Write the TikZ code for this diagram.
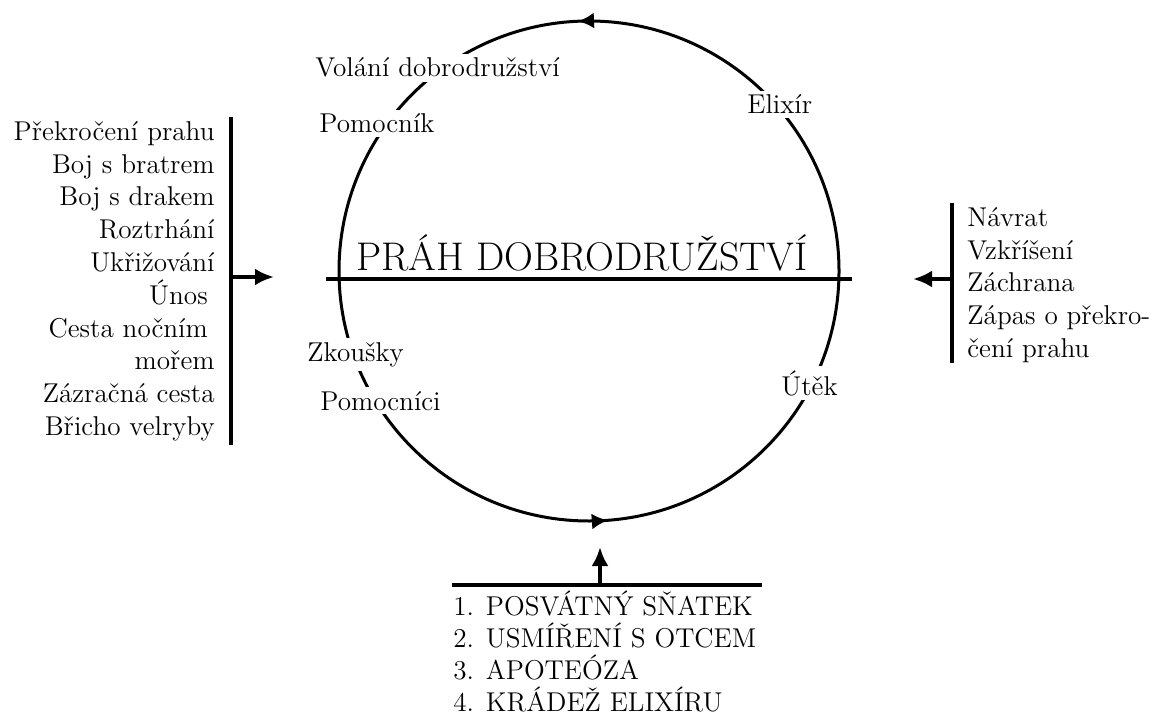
\documentclass[tikz,border=0pt]{standalone}
\usetikzlibrary{arrows.meta, decorations.markings, positioning}
\tikzset{> = { Latex[length = 9.5pt, width = 8.5pt] }}

\begin{document}
\begin{tikzpicture}[x = 0.5pt, y = 0.5pt,
		txt/.style = { font = \fontsize{13.6}{16.4}\selectfont, inner sep = 0pt },
		onring/.style = { txt, fill = white, inner sep = 2pt, anchor = base west },
		bar/.style = { line width = 2pt }]
	\useasboundingbox (0, 0) rectangle (1160, -716);

	\coordinate (c) at (589, -271);
	\draw [line width = 1.5pt, postaction = decorate, decoration = { markings,
			mark = at position 0.257 with { \arrow{Latex[length = 8pt, width = 8pt]} },
			mark = at position 0.762 with { \arrow{Latex[length = 8pt, width = 8pt]} } }] (c) circle [radius = 250];

	\node [onring] (call) at (311, -77) {Volání dobrodružství};
	\node [onring] (helper) at (315, -133) {Pomocník};
	\node [onring] (elixir) at (743, -114) {Elixír};
	\node [onring] (tests) at (303, -361) {Zkoušky};
	\node [onring] (helpers) at (316, -410) {Pomocníci};
	\node [onring] (flight) at (777, -395) {Útěk};

	\node [inner sep = 0pt, anchor = base west, font = \fontsize{20}{24}\selectfont] (prah) at (356, -271) {PRÁH DOBRODRUŽSTVÍ};
	\draw [line width = 2pt] (326, -279) -- (852, -279);

	\node [txt, align = right, anchor = north east] (trials) at (215, -121)
		{Překročení prahu\\Boj s bratrem\\Boj s drakem\\Roztrhání\\Ukřižování\\Únos\kern 0.25em\\Cesta nočním\kern 0.25em\\mořem\\Zázračná cesta\\Břicho velryby};
	\draw [bar] (231, -117) -- (231, -445);
	\coordinate (lfoot) at (231, -277);
	\coordinate (ltip) at (274, -277);
	\draw [bar, ->] (lfoot) -- (ltip);

	\node [txt, align = left, anchor = north west] (ret) at (967, -207)
		{Návrat\\Vzkříšení\\Záchrana\\Zápas o překro-\\čení prahu};
	\draw [bar] (952, -203) -- (952, -363);
	\coordinate (rfoot) at (952, -279);
	\coordinate (rtip) at (913, -279);
	\draw [bar, ->] (rfoot) -- (rtip);

	\node [txt, align = left, anchor = north west, font = \fontsize{13.6}{16}\selectfont] (boon) at (453, -590)
		{1. POSVÁTNÝ SŇATEK\\2. USMÍŘENÍ S OTCEM\\3. APOTEÓZA\\4. KRÁDEŽ ELIXÍRU};
	\draw [bar] (452, -585) -- (762, -585);
	\coordinate (bfoot) at (600, -585);
	\coordinate (btip) at (600, -547);
	\draw [bar, ->] (bfoot) -- (btip);
\end{tikzpicture}
\end{document}
